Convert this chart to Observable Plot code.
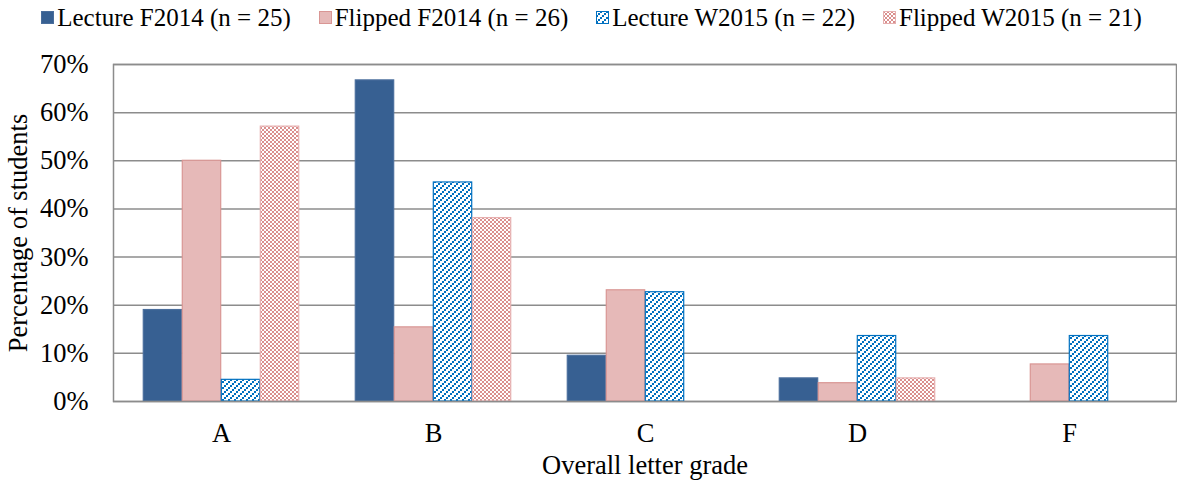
<!DOCTYPE html>
<html>
<head>
<meta charset="utf-8">
<script src="https://cdn.jsdelivr.net/npm/d3@7"></script>
<script src="https://cdn.jsdelivr.net/npm/@observablehq/plot@0.6"></script>
<style>
  html, body { margin: 0; padding: 0; background: white; }
  body { width: 1177px; height: 481px; overflow: hidden; font-family: "Liberation Serif", "Times New Roman", serif; }
  #legend { height: 35px; display: flex; justify-content: center; align-items: center; gap: 28px; font-size: 25px; color: #000; padding-left: 6px; }
  #legend .item { display: flex; align-items: center; }
  #legend svg { margin-right: 3px; }
</style>
</head>
<body>
<svg width="0" height="0" style="position:absolute">
  <defs>
    <pattern id="diag" width="6" height="6" patternUnits="userSpaceOnUse">
      <rect width="6" height="6" fill="white"/>
      <rect x="4" y="0" width="2" height="2" fill="#0070C0"/>
      <rect x="2" y="2" width="2" height="2" fill="#0070C0"/>
      <rect x="0" y="4" width="2" height="2" fill="#0070C0"/>
    </pattern>
    <pattern id="check" width="4" height="4" patternUnits="userSpaceOnUse">
      <rect width="4" height="4" fill="white"/>
      <rect x="0" y="0" width="2" height="2" fill="#DA8F8E"/>
      <rect x="2" y="2" width="2" height="2" fill="#DA8F8E"/>
    </pattern>
  </defs>
</svg>
<div id="legend"></div>
<div id="chart"></div>
<script>
// ---- data ----
const categories = ["A", "B", "C", "D", "F"];
const seriesNames = ["Lecture F2014 (n = 25)", "Flipped F2014 (n = 26)", "Lecture W2015 (n = 22)", "Flipped W2015 (n = 21)"];
const lectureF2014 = [19.0, 66.7, 9.5, 4.8, 0];
const flippedF2014 = [50.0, 15.4, 23.1, 3.8, 7.7];
const lectureW2015 = [4.5, 45.5, 22.7, 13.6, 13.6];
const flippedW2015 = [57.1, 38.1, 0, 4.8, 0];
const yTicks = [0, 10, 20, 30, 40, 50, 60, 70];
const xLabel = "Overall letter grade";
const yLabel = "Percentage of students";

// ---- styles ----
const seriesValues = [lectureF2014, flippedF2014, lectureW2015, flippedW2015];
const fills = ["#376092", "#E6B9B8", "url(#diag)", "url(#check)"];
const strokes = ["#4A6E9C", "#D99694", "#0070C0", "#E6B0B0"];

const width = 1177, height = 446;
const marginLeft = 113, marginRight = 1, marginTop = 29, marginBottom = 80;
const bandW = (width - marginLeft - marginRight) / categories.length;
const barW = bandW * 0.1835;
const outer = (bandW - 4 * barW) / 2;

const rows = [];
seriesValues.forEach((vals, i) => {
  vals.forEach((v, j) => rows.push({series: i, category: categories[j], value: v}));
});

const barMarks = seriesValues.map((vals, i) =>
  Plot.barY(rows.filter(d => d.series === i && d.value > 0), {
    x: "category",
    y: "value",
    fill: fills[i],
    stroke: strokes[i],
    strokeWidth: 1.2,
    insetLeft: outer + i * barW,
    insetRight: outer + (3 - i) * barW
  })
);

const chart = Plot.plot({
  width, height, marginLeft, marginRight, marginTop, marginBottom,
  style: {fontFamily: "Liberation Serif, Times New Roman, serif", fontSize: "26.5px", color: "#000", background: "white"},
  x: {domain: categories, padding: 0, tickSize: 0, tickPadding: 22, label: null},
  y: {domain: [0, 70], ticks: yTicks, tickFormat: d => d + "%", tickSize: 0, tickPadding: 25, label: null},
  marks: [
    Plot.ruleY(yTicks, {stroke: "#8C8C8C", strokeWidth: 1.5}),
    ...barMarks,
    Plot.frame({stroke: "#8C8C8C", strokeWidth: 1.5}),
    Plot.text([yLabel], {frameAnchor: "left", rotate: -90, dx: -95, textAnchor: "middle", lineAnchor: "middle", fontSize: 26.5}),
    Plot.text([xLabel], {frameAnchor: "bottom", dy: 64, textAnchor: "middle", lineAnchor: "middle", fontSize: 26.5})
  ]
});
document.getElementById("chart").appendChild(chart);

// ---- legend ----
const legend = d3.select("#legend");
seriesNames.forEach((name, i) => {
  const item = legend.append("div").attr("class", "item");
  const s = item.append("svg").attr("width", 13).attr("height", 13);
  s.append("rect").attr("x", 0.5).attr("y", 0.5).attr("width", 12).attr("height", 12)
    .attr("fill", fills[i]).attr("stroke", strokes[i]).attr("stroke-width", 1);
  item.append("span").text(name);
});
</script>
</body>
</html>
